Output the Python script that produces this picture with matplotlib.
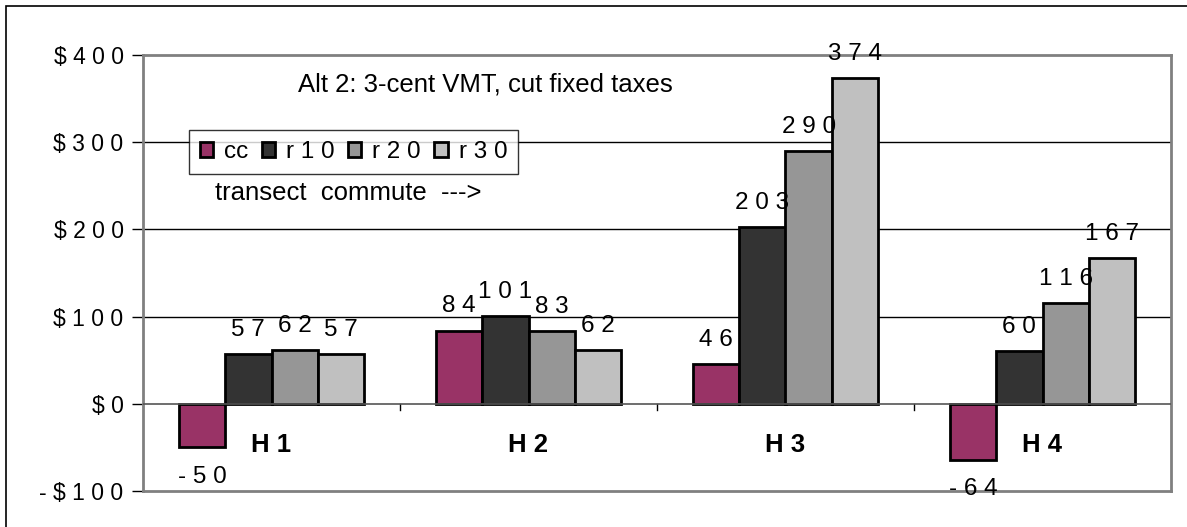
import matplotlib
matplotlib.use("Agg")
import matplotlib.pyplot as plt
from matplotlib.patches import Rectangle
import numpy as np

plt.rcParams['font.family'] = ['Liberation Sans', 'DejaVu Sans']

categories = ["H1", "H2", "H3", "H4"]
series = ["cc", "r10", "r20", "r30"]
cc = [-50, 84, 46, -64]
r10 = [57, 101, 203, 60]
r20 = [62, 83, 290, 116]
r30 = [57, 62, 374, 167]
colors = ["#993366", "#333333", "#969696", "#C0C0C0"]
yticks = [-100, 0, 100, 200, 300, 400]


def spaced(s):
    return " ".join(s)


fig = plt.figure(figsize=(11.87, 5.27), dpi=100)
ax = fig.add_axes([143 / 1187, 1 - 491 / 527, 1028 / 1187, 436 / 527])

x = np.arange(len(categories))
w = 0.18
for i, (name, vals) in enumerate(zip(series, [cc, r10, r20, r30])):
    pos = x + (i - 1.5) * w
    label = name if name == "cc" else spaced(name)
    ax.bar(pos, vals, width=w, color=colors[i], edgecolor="black",
           linewidth=2, label=label, zorder=3)
    for px, v in zip(pos, vals):
        if v >= 0:
            ax.annotate(spaced(str(v)), (px, v), xytext=(0, 13),
                        textcoords="offset points", ha="center",
                        va="baseline", fontsize=17.5, zorder=5)
        else:
            ax.annotate(spaced(str(v)), (px, v), xytext=(0, -13.5),
                        textcoords="offset points", ha="center",
                        va="top", fontsize=17.5, zorder=5,
                        annotation_clip=False)

ax.set_xlim(-0.5, 3.5)
ax.set_ylim(-100, 400)
ax.set_yticks(yticks)
ax.set_yticklabels([spaced(f"${v}") if v >= 0 else spaced(f"-${-v}")
                    for v in yticks], fontsize=16.5)
ax.tick_params(axis="y", length=8, width=1, pad=6, color="black")
ax.set_xticks([])
for b in [0.5, 1.5, 2.5]:
    ax.plot([b, b], [0, -7], color="black", lw=1, zorder=2)

for v in [100, 200, 300]:
    ax.axhline(v, color="black", lw=1, zorder=1)
ax.axhline(0, color="#555555", lw=1.2, zorder=4)

for sp in ax.spines.values():
    sp.set_color("#808080")
    sp.set_linewidth(2)

for xi, c in zip(x, categories):
    ax.text(xi, -47, spaced(c), ha="center", va="center",
            fontsize=18.5, fontweight="bold")

ax.text(0.151, 0.932, "Alt 2: 3-cent VMT, cut fixed taxes",
        transform=ax.transAxes, ha="left", va="center", fontsize=18.5)
ax.text(0.070, 0.683, "transect  commute  --->",
        transform=ax.transAxes, ha="left", va="center", fontsize=18.5)

leg = ax.legend(loc="upper left", bbox_to_anchor=(0.0447, 0.828),
                borderaxespad=0, ncol=4, fontsize=17.5, frameon=True,
                fancybox=False, edgecolor="black", handlelength=0.55,
                handleheight=0.55, handletextpad=0.45, columnspacing=0.55,
                borderpad=0.45)
leg.get_frame().set_linewidth(1)
leg.set_zorder(6)

fig.patches.append(Rectangle((6 / 1187, -0.1), 1.2, 1.1 - 6 / 527,
                             transform=fig.transFigure, fill=False,
                             edgecolor="black", lw=1.2))

fig.savefig("out.png", dpi=100)
